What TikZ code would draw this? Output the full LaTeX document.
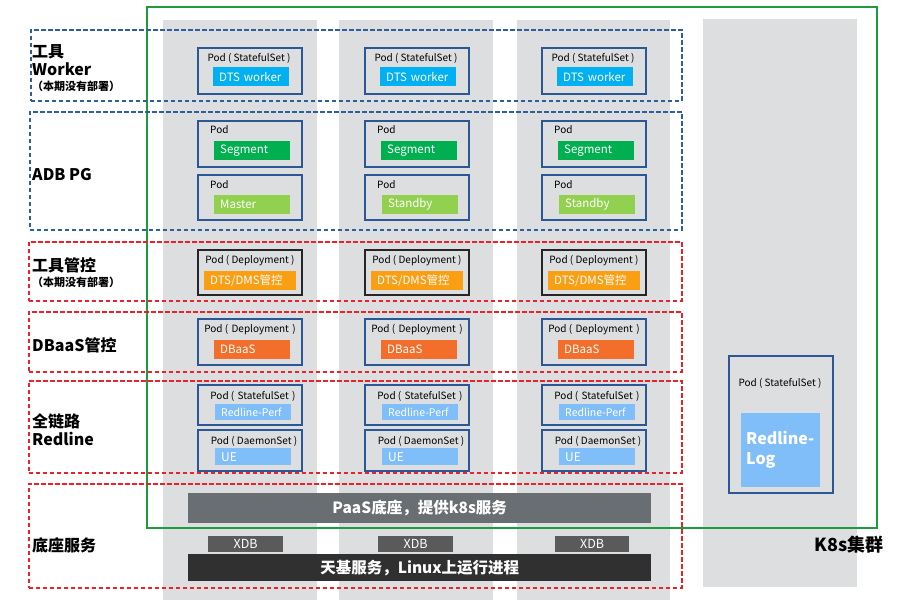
\documentclass[tikz,border=0pt]{standalone}
\usepackage{fontspec}
\setmainfont{Noto Sans CJK SC}
\definecolor{colgrey}{HTML}{DCDEE0}
\definecolor{bluedash}{HTML}{2F5E9E}
\definecolor{reddash}{HTML}{E8232B}
\definecolor{k8sgreen}{HTML}{1E9B3C}
\definecolor{podblue}{HTML}{2B5797}
\definecolor{cdts}{HTML}{00B0F0}
\definecolor{cseg}{HTML}{00B050}
\definecolor{cmaster}{HTML}{92D050}
\definecolor{cdms}{HTML}{FA9E14}
\definecolor{cdbaas}{HTML}{F36E2B}
\definecolor{clblue}{HTML}{80BEFA}
\definecolor{cpaas}{HTML}{696E73}
\definecolor{ctianji}{HTML}{303030}
\definecolor{cxdb}{HTML}{5A5A5A}
\tikzset{
  colbg/.style={fill=colgrey, draw=none, anchor=north west, inner sep=0pt},
  blueband/.style={draw=bluedash, line width=1.6pt, dash pattern=on 4.5pt off 2.5pt, anchor=north west, inner sep=0pt},
  redband/.style={draw=reddash, line width=1.6pt, dash pattern=on 4.5pt off 2.5pt, anchor=north west, inner sep=0pt},
  pod/.style={draw=podblue, line width=1.7pt, anchor=north west, inner sep=0pt, minimum width=104pt},
  podk/.style={draw=black!85, line width=1.7pt, anchor=north west, inner sep=0pt, minimum width=104pt},
  podlbl/.style={inner sep=0pt, font=\fontsize{10}{11}\selectfont, text=black},
  inbox/.style={anchor=north west, inner xsep=6pt, inner ysep=0pt, text width=64pt, minimum height=19pt, align=left, text=white, font=\fontsize{11.5}{12}\selectfont},
  biglbl/.style={anchor=west, inner sep=0pt, font=\fontsize{16}{18}\bfseries\selectfont},
  smalllbl/.style={anchor=west, inner sep=0pt, font=\fontsize{11}{12}\bfseries\selectfont},
  bar/.style={anchor=north west, inner sep=0pt, minimum width=463pt, text=white, font=\fontsize{15.5}{17}\bfseries\selectfont},
  xdb/.style={anchor=north west, inner sep=0pt, fill=cxdb, minimum width=75pt, minimum height=16pt, text=white, font=\fontsize{12.5}{12}\selectfont},
}
\begin{document}
\begin{tikzpicture}[x=1pt,y=-1pt]
\useasboundingbox (0,0) rectangle (900,600);
\fill[white] (0,0) rectangle (900,600);
% grey columns
\node[colbg, minimum width=154pt, minimum height=580pt] (col1) at (163,20) {};
\node[colbg, minimum width=154pt, minimum height=580pt] (col2) at (339,20) {};
\node[colbg, minimum width=153pt, minimum height=580pt] (col3) at (517,20) {};
\node[colbg, minimum width=154pt, minimum height=568pt] (col4) at (703,19) {};
% K8s cluster
\node[draw=k8sgreen, line width=1.5pt, anchor=north west, inner sep=0pt, minimum width=730pt, minimum height=521pt] (k8s) at (146,6) {};
\node[anchor=east, inner sep=0pt, font=\fontsize{18}{20}\bfseries\selectfont] (k8slbl) at (884,545) {K8s集群};
% bands
\node[blueband, minimum width=651pt, minimum height=71pt] (band1) at (30,29) {};
\node[blueband, minimum width=652pt, minimum height=118pt] (band2) at (29,111) {};
\node[redband, minimum width=653pt, minimum height=59pt] (band3) at (28,241) {};
\node[redband, minimum width=653pt, minimum height=60pt] (band4) at (28,311) {};
\node[redband, minimum width=653pt, minimum height=92pt] (band5) at (28,380) {};
\node[redband, minimum width=653pt, minimum height=104pt] (band6) at (28,483) {};
% left labels
\node[biglbl] (lw1) at (32,52) {工具};
\node[biglbl] (lw2) at (32,69) {Worker};
\node[smalllbl] (lw3) at (32,86) {（本期没有部署）};
\node[biglbl] (ladb) at (32,175) {ADB PG};
\node[biglbl] (lt1) at (32,265) {工具管控};
\node[smalllbl] (lt2) at (32,282) {（本期没有部署）};
\node[biglbl] (ldb) at (32,345) {DBaaS管控};
\node[biglbl] (lr1) at (32,421) {全链路};
\node[biglbl] (lr2) at (32,439) {Redline};
\node[biglbl] (lbase) at (32,545) {底座服务};
% pods in three columns
\foreach \i/\x in {1/197,2/364,3/541} {
  % DTS worker
  \node[pod, minimum height=46pt] (w\i) at (\x,47) {};
  \node[podlbl] (wl\i) at (\x+52,58) {Pod ( StatefulSet )};
  \node[inbox, fill=cdts] (wi\i) at (\x+16,67) {DTS worker};
  % Segment
  \node[pod, minimum height=46pt] (s\i) at (\x,120) {};
  \node[podlbl, anchor=west] (sl\i) at (\x+13,130) {Pod};
  \node[inbox, fill=cseg] (si\i) at (\x+17,141) {Segment};
  % Master / Standby
  \node[pod, minimum height=45pt] (m\i) at (\x,174) {};
  \node[podlbl, anchor=west] (ml\i) at (\x+13,185) {Pod};
  % Deployment DTS/DMS
  \node[podk, minimum height=45pt] (t\i) at (\x,249) {};
  \node[podlbl] (tl\i) at (\x+53,261) {Pod ( Deployment )};
  \node[inbox, fill=cdms, text width=80pt] (ti\i) at (\x+7,271) {DTS/DMS管控};
  % DBaaS
  \node[pod, minimum height=46pt] (d\i) at (\x,318) {};
  \node[podlbl] (dl\i) at (\x+53,330) {Pod (\,\,Deployment\,\,)};
  \node[inbox, fill=cdbaas] (di\i) at (\x+17,340) {DBaaS};
  % Redline-Perf
  \node[pod, minimum height=40pt] (rp\i) at (\x,384) {};
  \node[podlbl] (rpl\i) at (\x+56,396) {Pod (\,\,StatefulSet\,\,)};
  \node[inbox, fill=clblue, minimum height=16pt, font=\fontsize{10.5}{11}\selectfont] (rpi\i) at (\x+18,404) {Redline-Perf};
  % UE
  \node[pod, minimum height=41pt] (ue\i) at (\x,429) {};
  \node[podlbl] (uel\i) at (\x+57,441) {Pod ( DaemonSet )};
  \node[inbox, fill=clblue, minimum height=17pt, font=\fontsize{12}{12}\selectfont] (uei\i) at (\x+18,448) {UE};
}
\node[inbox, fill=cmaster] (mi1) at (214,195) {Master};
\node[inbox, fill=cmaster] (mi2) at (382,195) {Standby};
\node[inbox, fill=cmaster] (mi3) at (559,195) {Standby};
% Redline-Log
\node[pod, minimum height=137pt] (rl) at (728,355) {};
\node[podlbl] (rll) at (780,383) {Pod ( StatefulSet )};
\node[anchor=north west, fill=clblue, inner xsep=5pt, inner ysep=0pt, text width=69pt, minimum height=74pt, align=left, text=white, font=\fontsize{16}{20}\bfseries\selectfont] (rli) at (741,413) {Redline-\\Log};
% bottom bars
\node[bar, fill=cpaas, minimum height=30pt] (paas) at (188,493) {PaaS底座，提供k8s服务};
\node[xdb] (x1) at (208,536) {XDB};
\node[xdb] (x2) at (378,536) {XDB};
\node[xdb, minimum width=74pt] (x3) at (555,536) {XDB};
\node[bar, fill=ctianji, minimum height=27pt] (tianji) at (188,554) {天基服务，Linux上运行进程};
\end{tikzpicture}
\end{document}
